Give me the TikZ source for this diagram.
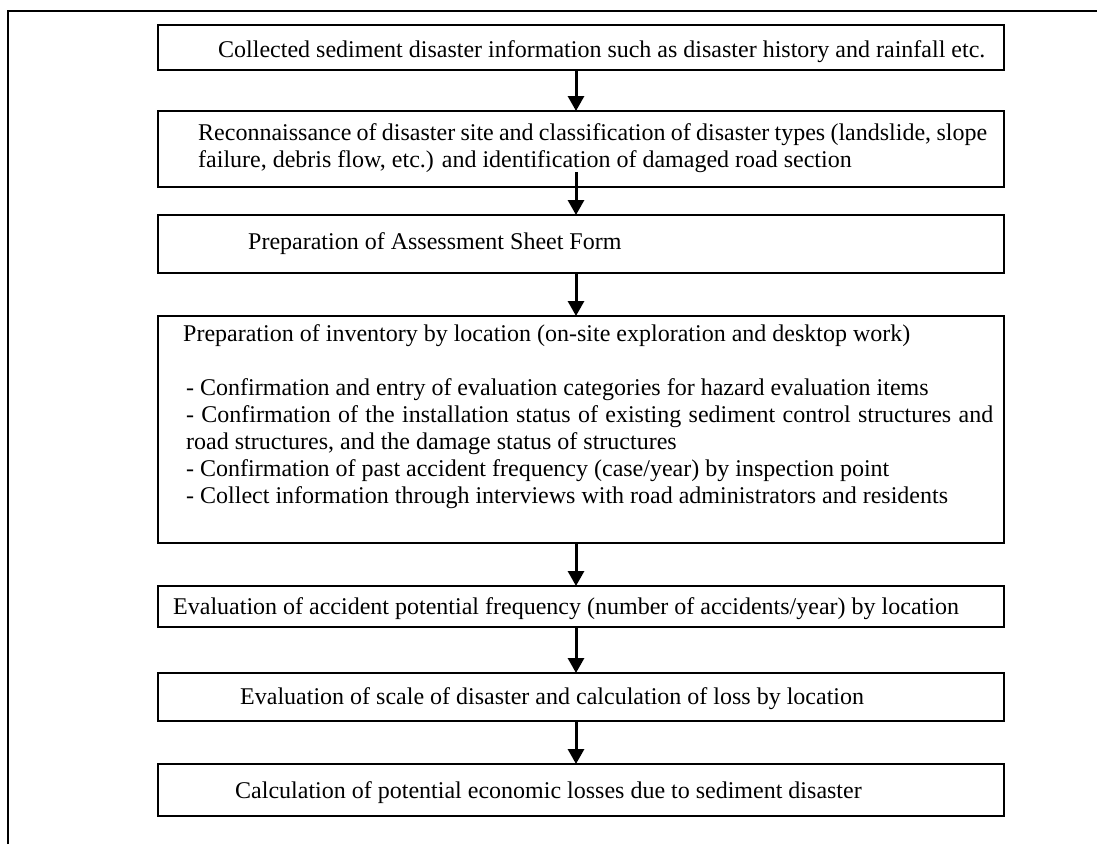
\documentclass[tikz,border=0pt]{standalone}
\usepackage{fontspec}
\setmainfont{Liberation Serif}
\usetikzlibrary{arrows.meta}
\begin{document}
\begin{tikzpicture}[x=1pt,y=-1pt,
  box/.style={draw, line width=1.6pt, minimum width=846pt, anchor=north west, inner sep=0pt, outer sep=0pt},
  txt/.style={anchor=base west, inner sep=0pt, font=\fontsize{24}{27.6}\selectfont},
  arr/.style={line width=3pt, -{Triangle[width=16pt,length=15pt]}}]
\useasboundingbox (0,0) rectangle (1097,844);
\draw[line width=1.4pt] (8,844) -- (8,11) -- (1097,11);
% boxes
\node[box, minimum height=45pt] (b1) at (158,25) {};
\node[box, minimum height=76pt] (b2) at (158,111) {};
\node[box, minimum height=58pt] (b3) at (158,215) {};
\node[box, minimum height=227pt] (b4) at (158,316) {};
\node[box, minimum height=41pt] (b5) at (158,586) {};
\node[box, minimum height=48pt] (b6) at (158,673) {};
\node[box, minimum height=52pt] (b7) at (158,764) {};
% texts
\node[txt] (t1) at (218,57) {Collected sediment disaster information such as disaster history and rainfall etc.};
\node[txt] (t2a) at (198,140) {\hbox to 789pt{Reconnaissance of disaster site and classification of disaster types (landslide, slope}};
\node[txt] (t2b) at (198,167) {failure, debris flow, etc.) and identification of damaged road section};
\node[txt] (t3) at (248,249) {Preparation of Assessment Sheet Form};
\node[txt] (t4a) at (183,341) {Preparation of inventory by location (on-site exploration and desktop work)};
\node[txt] (t4b) at (186,395) {- Confirmation and entry of evaluation categories for hazard evaluation items};
\node[txt] (t4c) at (186,422) {\hbox to 807pt{- Confirmation of the installation status of existing sediment control structures and}};
\node[txt] (t4d) at (186,449) {road structures, and the damage status of structures};
\node[txt] (t4e) at (186,476) {- Confirmation of past accident frequency (case/year) by inspection point};
\node[txt] (t4f) at (186,503) {- Collect information through interviews with road administrators and residents};
\node[txt] (t5) at (173,614) {Evaluation of accident potential frequency (number of accidents/year) by location};
\node[txt] (t6) at (240,704) {Evaluation of scale of disaster and calculation of loss by location};
\node[txt] (t7) at (235,798) {Calculation of potential economic losses due to sediment disaster};
% arrows
\coordinate (c2) at (576,172);
\draw[arr] ([xshift=-5pt]b1.south) -- ([xshift=-5pt]b2.north);
\draw[arr] (c2) -- ([xshift=-5pt]b3.north);
\draw[arr] ([xshift=-5pt]b3.south) -- ([xshift=-5pt]b4.north);
\draw[arr] ([xshift=-5pt]b4.south) -- ([xshift=-5pt]b5.north);
\draw[arr] ([xshift=-5pt]b5.south) -- ([xshift=-5pt]b6.north);
\draw[arr] ([xshift=-5pt]b6.south) -- ([xshift=-5pt]b7.north);
\end{tikzpicture}
\end{document}
